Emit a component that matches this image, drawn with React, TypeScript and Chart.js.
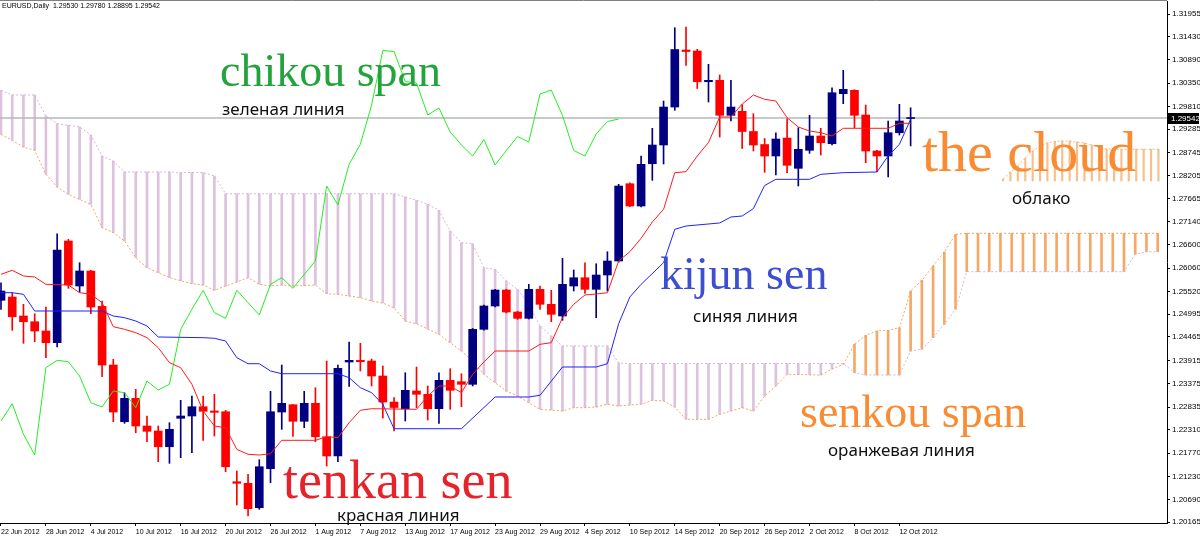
import React, { useEffect, useRef } from 'react';
import { Chart, registerables } from 'chart.js';
Chart.register(...registerables);

// ---------- axis data ----------
const xTickIdx = [0, 4, 8, 12, 16, 20, 24, 28, 32, 36, 40, 44, 48, 52, 56, 60, 64, 68, 72, 76, 80];
const xTickLabels = ['22 Jun 2012', '28 Jun 2012', '4 Jul 2012', '10 Jul 2012', '16 Jul 2012', '20 Jul 2012', '26 Jul 2012', '1 Aug 2012', '7 Aug 2012', '13 Aug 2012', '17 Aug 2012', '23 Aug 2012', '29 Aug 2012', '4 Sep 2012', '10 Sep 2012', '14 Sep 2012', '20 Sep 2012', '26 Sep 2012', '2 Oct 2012', '8 Oct 2012', '12 Oct 2012'];
const yTicks = [1.31955, 1.3143, 1.3089, 1.3035, 1.2981, 1.29285, 1.28745, 1.28205, 1.27665, 1.2714, 1.266, 1.2606, 1.2552, 1.24995, 1.24465, 1.23915, 1.23375, 1.22835, 1.2231, 1.2177, 1.2123, 1.2069, 1.20165];

// ---------- candles (EURUSD daily) ----------
const open = [1.25313, 1.25389, 1.24949, 1.24816, 1.24601, 1.24329, 1.26689, 1.25645, 1.25993, 1.25174,
  1.23812, 1.22496, 1.23039, 1.22397, 1.22281, 1.21916, 1.22575, 1.22629, 1.22844, 1.22745,
  1.22728, 1.21104, 1.21067, 1.20501, 1.21406, 1.22721, 1.22891, 1.22506, 1.22923, 1.22148,
  1.21701, 1.23881, 1.23921, 1.23905, 1.23557, 1.22953, 1.22798, 1.23209, 1.23132, 1.22798,
  1.23457, 1.23425, 1.23364, 1.24640, 1.25181, 1.25552, 1.25041, 1.24895, 1.25568, 1.25220,
  1.24949, 1.25645, 1.25837, 1.25568, 1.25900, 1.26225, 1.28018, 1.27501, 1.28482, 1.28916,
  1.29797, 1.31120, 1.31097, 1.30384, 1.30417, 1.29605, 1.29698, 1.29229, 1.28927, 1.28661,
  1.29078, 1.28375, 1.28793, 1.29125, 1.28946, 1.30106, 1.30185, 1.29612, 1.28777, 1.28661,
  1.29201, 1.29530];
const high = [1.25721, 1.25489, 1.25220, 1.25002, 1.25157, 1.26858, 1.26728, 1.26185, 1.26010, 1.25297,
  1.23944, 1.23169, 1.23248, 1.22629, 1.22397, 1.22473, 1.22993, 1.23093, 1.23093, 1.23132,
  1.22761, 1.21353, 1.21276, 1.21615, 1.23202, 1.23812, 1.22900, 1.23202, 1.23285, 1.23905,
  1.23812, 1.24345, 1.24315, 1.23951, 1.23789, 1.23058, 1.23633, 1.23765, 1.23325, 1.23633,
  1.23726, 1.23610, 1.24660, 1.25200, 1.25570, 1.25570, 1.25060, 1.25684, 1.25645, 1.25545,
  1.26287, 1.26016, 1.26185, 1.26162, 1.26440, 1.28004, 1.28040, 1.28661, 1.29303, 1.29937,
  1.31637, 1.31653, 1.31136, 1.30788, 1.30540, 1.30417, 1.29853, 1.29642, 1.29067, 1.29201,
  1.29526, 1.29317, 1.29605, 1.29303, 1.30245, 1.30649, 1.30200, 1.29844, 1.28790, 1.29473,
  1.29860, 1.29780];
const low = [1.25104, 1.24617, 1.24315, 1.24352, 1.23981, 1.24229, 1.25591, 1.25505, 1.25002, 1.23540,
  1.22496, 1.22459, 1.22241, 1.22032, 1.21568, 1.21531, 1.21661, 1.21777, 1.22065, 1.22165,
  1.21336, 1.20564, 1.20309, 1.20464, 1.21081, 1.22320, 1.22158, 1.22357, 1.22032, 1.21469,
  1.21568, 1.23318, 1.23673, 1.23325, 1.22582, 1.22281, 1.22513, 1.22821, 1.22536, 1.22459,
  1.22784, 1.22844, 1.23325, 1.24620, 1.25160, 1.25020, 1.24870, 1.24880, 1.25104, 1.24816,
  1.24849, 1.25529, 1.25475, 1.24909, 1.25529, 1.26200, 1.27485, 1.27477, 1.28097, 1.28475,
  1.29721, 1.30760, 1.30227, 1.29913, 1.29101, 1.29473, 1.28835, 1.28777, 1.28282, 1.28220,
  1.28273, 1.27965, 1.28723, 1.28684, 1.28916, 1.29874, 1.29317, 1.28505, 1.28296, 1.28173,
  1.29148, 1.28895];
const close = [1.25529, 1.24932, 1.24816, 1.24601, 1.24329, 1.26480, 1.25668, 1.25993, 1.25157, 1.23812,
  1.22721, 1.23039, 1.22397, 1.22274, 1.21916, 1.22320, 1.22629, 1.22844, 1.22738, 1.22714,
  1.21452, 1.21067, 1.20478, 1.21452, 1.22728, 1.22923, 1.22506, 1.22923, 1.22148, 1.21701,
  1.23735, 1.23921, 1.23888, 1.23557, 1.22953, 1.22826, 1.23225, 1.23132, 1.22798, 1.23457,
  1.23225, 1.23364, 1.24640, 1.25181, 1.25552, 1.25041, 1.24895, 1.25568, 1.25220, 1.24988,
  1.25684, 1.25837, 1.25568, 1.25900, 1.26225, 1.27965, 1.27501, 1.28468, 1.28916, 1.29797,
  1.31131, 1.31085, 1.30384, 1.30417, 1.29605, 1.29797, 1.29229, 1.28916, 1.28661, 1.29055,
  1.28445, 1.28816, 1.29125, 1.28969, 1.30129, 1.30208, 1.29605, 1.28777, 1.28661, 1.29201,
  1.29473, 1.29542];

// ---------- Ichimoku lines (bar index, price) ----------
const tenkan: [number, number][] = [[0, 1.25916], [1, 1.26009], [2, 1.25877], [3, 1.25854], [4, 1.25684], [6, 1.25668], [7, 1.2549], [8, 1.25452], [9, 1.25258], [10, 1.24701], [11, 1.2464], [12, 1.24562], [13, 1.24446], [14, 1.24214], [15, 1.23866], [16, 1.2375], [17, 1.23364], [18, 1.22745], [19, 1.22397], [20, 1.22358], [21, 1.21856], [22, 1.2174], [23, 1.21724], [24, 1.21754], [25, 1.22065], [28, 1.22065], [29, 1.22149], [30, 1.22126], [31, 1.22474], [32, 1.22761], [33, 1.22798], [37, 1.22784], [38, 1.23093], [39, 1.23325], [40, 1.23325], [41, 1.2317], [42, 1.23596], [43, 1.23882], [44, 1.24137], [47, 1.24137], [48, 1.24292], [49, 1.2433], [50, 1.2491], [51, 1.2522], [52, 1.25436], [53, 1.25459], [54, 1.2549], [55, 1.26225], [56, 1.26441], [57, 1.26752], [58, 1.2713], [59, 1.27424], [60, 1.28274], [61, 1.28297], [62, 1.28661], [63, 1.28974], [64, 1.29566], [65, 1.29566], [66, 1.29867], [67, 1.30076], [68, 1.29976], [69, 1.29937], [70, 1.2955], [71, 1.29334], [72, 1.29241], [73, 1.29202], [74, 1.29125], [75, 1.29304], [79, 1.29304], [80, 1.2942], [81, 1.2942]];
const kijun: [number, number][] = [[0, 1.2549], [1, 1.2549], [2, 1.25452], [3, 1.25065], [9, 1.25065], [10, 1.24949], [11, 1.2491], [12, 1.24833], [13, 1.24717], [14, 1.24462], [18, 1.24446], [19, 1.24432], [20, 1.24369], [21, 1.23982], [22, 1.23842], [23, 1.23842], [24, 1.23673], [25, 1.2361], [30, 1.2361], [31, 1.23518], [32, 1.23286], [33, 1.2317], [34, 1.229], [35, 1.22334], [41, 1.22334], [44, 1.2307], [47, 1.2307], [48, 1.23109], [50, 1.23766], [53, 1.23766], [54, 1.23842], [55, 1.2477], [56, 1.2539], [57, 1.25684], [59, 1.26186], [60, 1.2696], [61, 1.27037], [64, 1.27107], [65, 1.27246], [66, 1.27269], [67, 1.27443], [68, 1.27977], [69, 1.2812], [72, 1.2812], [73, 1.28236], [75, 1.28274], [78, 1.2829], [79, 1.28661], [80, 1.28932], [81, 1.29512]];
const chikou = [1.22513, 1.22914, 1.22204, 1.21724, 1.2375, 1.23921, 1.23889, 1.23557, 1.22938, 1.22838,
  1.23209, 1.2317, 1.22822, 1.23441, 1.23232, 1.23364, 1.2464, 1.25104, 1.25545, 1.25026,
  1.24896, 1.25545, 1.25258, 1.24972, 1.25684, 1.25838, 1.25592, 1.25916, 1.26225, 1.27965,
  1.27524, 1.28468, 1.28932, 1.29844, 1.31109, 1.31085, 1.30389, 1.30355, 1.29612, 1.29775,
  1.29218, 1.28916, 1.28661, 1.29044, 1.28452, 1.28789, 1.29113, 1.28986, 1.30099, 1.30192,
  1.29601, 1.28789, 1.28661, 1.29171, 1.29461, 1.29519];
const senkouA = [1.29164, 1.29025, 1.2887, 1.28793, 1.28236, 1.27942, 1.27772, 1.27656, 1.2754, 1.26998,
  1.26882, 1.26689, 1.26302, 1.2607, 1.25954, 1.25838, 1.25768, 1.25698, 1.25668, 1.25545,
  1.25645, 1.25738, 1.25838, 1.25684, 1.25645, 1.25668, 1.25645, 1.25657, 1.25668, 1.25466,
  1.25452, 1.25413, 1.25374, 1.25297, 1.25251, 1.25135, 1.24833, 1.2477, 1.24647, 1.24524,
  1.2433, 1.24137, 1.23905, 1.23596, 1.23402, 1.23209, 1.23093, 1.22938, 1.22784, 1.22768,
  1.22745, 1.22822, 1.22822, 1.22838, 1.229, 1.22861, 1.22884, 1.229, 1.22993, 1.22977,
  1.22838, 1.22552, 1.22552, 1.22552, 1.22668, 1.22745, 1.22822, 1.22745, 1.23093, 1.23325,
  1.23596, 1.23592, 1.23585, 1.2358, 1.23719, 1.23828, 1.24292, 1.24501, 1.24601, 1.24617,
  1.24678, 1.25529, 1.25777, 1.26109, 1.26434, 1.26844, 1.26868, 1.26868, 1.26868, 1.26868,
  1.26868, 1.26868, 1.26868, 1.26868, 1.26868, 1.26868, 1.26868, 1.26868, 1.26868, 1.26868,
  1.26868, 1.26868, 1.26868, 1.26868];
const senkouB = [1.30185, 1.30076, 1.30076, 1.30076, 1.29589, 1.2941, 1.29373, 1.29334, 1.29148, 1.28661,
  1.28545, 1.2829, 1.2829, 1.2829, 1.2829, 1.2829, 1.28278, 1.28278, 1.28274, 1.28197,
  1.27786, 1.27786, 1.27786, 1.27786, 1.27786, 1.27786, 1.27786, 1.27786, 1.27786, 1.27786,
  1.27786, 1.27786, 1.27786, 1.27786, 1.27786, 1.27786, 1.2771, 1.27633, 1.2754, 1.27401,
  1.26921, 1.2665, 1.26626, 1.2607, 1.26032, 1.25761, 1.25568, 1.2522, 1.24717, 1.24485,
  1.24253, 1.24253, 1.24253, 1.24253, 1.24253, 1.23859, 1.23847, 1.23847, 1.23847, 1.23847,
  1.23847, 1.23847, 1.23847, 1.23847, 1.23847, 1.23847, 1.23847, 1.23847, 1.23847, 1.23847,
  1.23847, 1.23847, 1.23847, 1.23847, 1.23847, 1.23847, 1.23634, 1.2358, 1.2358, 1.2358,
  1.2358, 1.24137, 1.24176, 1.24446, 1.24756, 1.25104, 1.25977, 1.25977, 1.25977, 1.25977,
  1.25977, 1.25977, 1.25977, 1.25977, 1.25977, 1.25977, 1.25977, 1.25977, 1.25977, 1.25977,
  1.25977, 1.2638, 1.26441, 1.26441];

// small illustrative cloud piece behind "the cloud"
const decoX = [89.23, 89.89, 90.55, 91.21, 91.87, 92.53, 93.18, 93.84, 94.5, 95.16, 95.82, 96.48, 97.14, 97.8, 98.46, 99.12, 99.77, 100.43, 101.09, 101.75, 102.41, 103.07];
const decoTop = [1.28127, 1.2829, 1.28429, 1.28615, 1.28777, 1.28893, 1.28963, 1.28997, 1.29009, 1.29009, 1.28986, 1.28963, 1.28916, 1.28858, 1.28823, 1.28816, 1.28816, 1.28816, 1.28816, 1.28816, 1.28816, 1.28816];
const decoBottom = 1.28081;

const bid = 1.29542;
const header = 'EURUSD,Daily  1.29530 1.29780 1.28895 1.29542';

// ---------- styles ----------
const BULL = '#000080';
const BEAR = '#ff0000';
const THISTLE = '#dcc2dc';
const SANDY = '#f6a866';
const SERIF = '"Liberation Serif", "Times New Roman", serif';
const SANS = '"Noto Sans", "Open Sans", sans-serif';
const AXIS_FONT = '"Liberation Sans", sans-serif';

type Note = { text: string; x: number; base: number; size: number; color: string; serif: boolean };
const notes: Note[] = [
  { text: 'chikou span', x: 220, base: 87, size: 46, color: '#22a33c', serif: true },
  { text: 'зеленая линия', x: 222, base: 115, size: 17, color: '#111', serif: false },
  { text: 'kijun sen', x: 660, base: 290, size: 46, color: '#3d4fd0', serif: true },
  { text: 'синяя линия', x: 693, base: 322, size: 17, color: '#111', serif: false },
  { text: 'tenkan sen', x: 283, base: 498, size: 54, color: '#e6222b', serif: true },
  { text: 'красная линия', x: 337, base: 521, size: 17, color: '#111', serif: false },
  { text: 'the cloud', x: 922, base: 172, size: 58, color: '#f98b32', serif: true },
  { text: 'облако', x: 1012, base: 204, size: 17, color: '#111', serif: false },
  { text: 'senkou span', x: 800, base: 428, size: 46, color: '#f98b32', serif: true },
  { text: 'оранжевая линия', x: 828, base: 456, size: 17, color: '#111', serif: false },
];

const overlayPlugin = {
  id: 'overlayPlugin',
  afterDraw(chart: any) {
    const { ctx, chartArea, scales } = chart;
    const y = Math.round(scales.y.getPixelForValue(bid));
    ctx.save();
    ctx.strokeStyle = '#808080';
    ctx.lineWidth = 1;
    ctx.beginPath();
    ctx.moveTo(0, 0.5);
    ctx.lineTo(chartArea.right, 0.5);
    ctx.stroke();
    ctx.fillStyle = '#000';
    ctx.fillRect(chartArea.right + 1, y - 5, 31, 11);
    ctx.fillStyle = '#fff';
    ctx.font = '8px "Liberation Sans", sans-serif';
    ctx.textBaseline = 'middle';
    ctx.textAlign = 'left';
    ctx.fillText(bid.toFixed(5), chartArea.right + 4, y + 0.5);
    ctx.restore();
  },
};

export default function App() {
  const ref = useRef<HTMLCanvasElement>(null);

  useEffect(() => {
    document.body.style.margin = '0';
    const idx = open.map((_, i) => i);
    const candleColor = (i: number) => (close[i] >= open[i] ? BULL : BEAR);
    const cloudIdx = senkouA.map((_, i) => i);

    const chart = new Chart(ref.current as HTMLCanvasElement, {
      type: 'bar',
      data: {
        datasets: [
          {
            type: 'bar',
            label: 'cloud',
            data: cloudIdx.map((i) => ({ x: i, y: [senkouA[i], senkouB[i]] })) as any,
            backgroundColor: cloudIdx.map((i) => (senkouB[i] > senkouA[i] ? THISTLE : SANDY)),
            barThickness: 2,
            order: 20,
          },
          {
            type: 'bar',
            label: 'deco',
            data: decoX.map((x, k) => ({ x, y: [decoBottom, decoTop[k]] })) as any,
            backgroundColor: 'rgba(247,170,100,0.75)',
            barThickness: 1.5,
            order: 19,
          },
          {
            type: 'line',
            label: 'decoEdge',
            data: decoX.map((x, k) => ({ x, y: decoTop[k] })),
            borderColor: 'rgba(244,164,96,0.8)',
            borderDash: [2, 2],
            borderWidth: 1,
            pointRadius: 0,
            order: 18,
          },
          {
            type: 'line',
            label: 'Senkou Span A',
            data: cloudIdx.map((i) => ({ x: i, y: senkouA[i] })),
            borderColor: '#f4a460',
            borderDash: [2, 2],
            borderWidth: 1,
            pointRadius: 0,
            order: 17,
          },
          {
            type: 'line',
            label: 'Senkou Span B',
            data: cloudIdx.map((i) => ({ x: i, y: senkouB[i] })),
            borderColor: '#d8b4d8',
            borderDash: [2, 2],
            borderWidth: 1,
            pointRadius: 0,
            order: 16,
          },
          {
            type: 'line',
            label: 'bid',
            data: [{ x: -1, y: bid }, { x: 110, y: bid }],
            borderColor: '#b4b8bc',
            borderWidth: 1.5,
            pointRadius: 0,
            order: 15,
          },
          {
            type: 'bar',
            label: 'wick',
            data: idx.map((i) => ({ x: i, y: [low[i], high[i]] })) as any,
            backgroundColor: idx.map(candleColor),
            barThickness: 1,
            order: 10,
          },
          {
            type: 'bar',
            label: 'body',
            data: idx.map((i) => ({ x: i, y: [open[i], close[i]] })) as any,
            backgroundColor: idx.map(candleColor),
            barThickness: 8,
            minBarLength: 1,
            order: 9,
          },
          {
            type: 'line',
            label: 'Chikou Span',
            data: chikou.map((v, i) => ({ x: i, y: v })),
            borderColor: '#22ee22',
            borderWidth: 1,
            pointRadius: 0,
            order: 3,
          },
          {
            type: 'line',
            label: 'Kijun-sen',
            data: kijun.map(([x, y]) => ({ x, y })),
            borderColor: '#2020ff',
            borderWidth: 1,
            pointRadius: 0,
            order: 2,
          },
          {
            type: 'line',
            label: 'Tenkan-sen',
            data: tenkan.map(([x, y]) => ({ x, y })),
            borderColor: '#ff1a1a',
            borderWidth: 1,
            pointRadius: 0,
            order: 1,
          },
        ] as any,
      },
      options: {
        animation: false,
        responsive: false,
        devicePixelRatio: 1,
        events: [],
        layout: { padding: { top: 1, left: 0, right: 0, bottom: 0 } },
        datasets: { bar: { grouped: false } as any, line: { tension: 0 } },
        plugins: { legend: { display: false }, tooltip: { enabled: false } },
        scales: {
          x: {
            type: 'linear',
            min: -0.089,
            max: 103.83,
            offset: false,
            afterBuildTicks: (s: any) => {
              s.ticks = xTickIdx.map((v) => ({ value: v }));
            },
            afterFit: (s: any) => {
              s.height = 18;
              s.paddingLeft = 0;
              s.paddingRight = 0;
            },
            ticks: {
              autoSkip: false,
              maxRotation: 0,
              minRotation: 0,
              align: 'start',
              padding: 2,
              color: '#000',
              font: { family: AXIS_FONT, size: 7 },
              callback: (_v: any, i: number) => xTickLabels[i],
            },
            grid: { drawOnChartArea: false, tickLength: 3, color: '#000', offset: false },
            border: { color: '#000', width: 1 },
          },
          y: {
            type: 'linear',
            position: 'right',
            min: 1.201466,
            max: 1.32257,
            afterBuildTicks: (s: any) => {
              s.ticks = yTicks.map((v) => ({ value: v }));
            },
            afterFit: (s: any) => {
              s.width = 33;
              s.paddingTop = 0;
              s.paddingBottom = 0;
            },
            ticks: {
              autoSkip: false,
              padding: 2,
              color: '#000',
              font: { family: AXIS_FONT, size: 8 },
              callback: (v: any) => Number(v).toFixed(5),
            },
            grid: { drawOnChartArea: false, tickLength: 3, color: '#000' },
            border: { color: '#000', width: 1 },
          },
        },
      } as any,
      plugins: [overlayPlugin],
    });
    return () => chart.destroy();
  }, []);

  return (
    <div style={{ position: 'relative', width: 1200, height: 541, background: '#fff', overflow: 'hidden' }}>
      <canvas ref={ref} width={1200} height={541} style={{ display: 'block' }} />
      <div style={{ position: 'absolute', left: 2, top: 2, fontFamily: '"Liberation Sans", sans-serif', fontSize: 7, lineHeight: '7px', color: '#000', whiteSpace: 'pre' }}>
        {header}
      </div>
      {notes.map((n) => (
        <div
          key={n.text}
          style={{
            position: 'absolute',
            left: n.x,
            top: n.base - (n.serif ? 0.8375 : 0.888) * n.size,
            fontFamily: n.serif ? SERIF : SANS,
            fontSize: n.size,
            lineHeight: `${n.size}px`,
            color: n.color,
            whiteSpace: 'nowrap',
          }}
        >
          {n.text}
        </div>
      ))}
    </div>
  );
}
